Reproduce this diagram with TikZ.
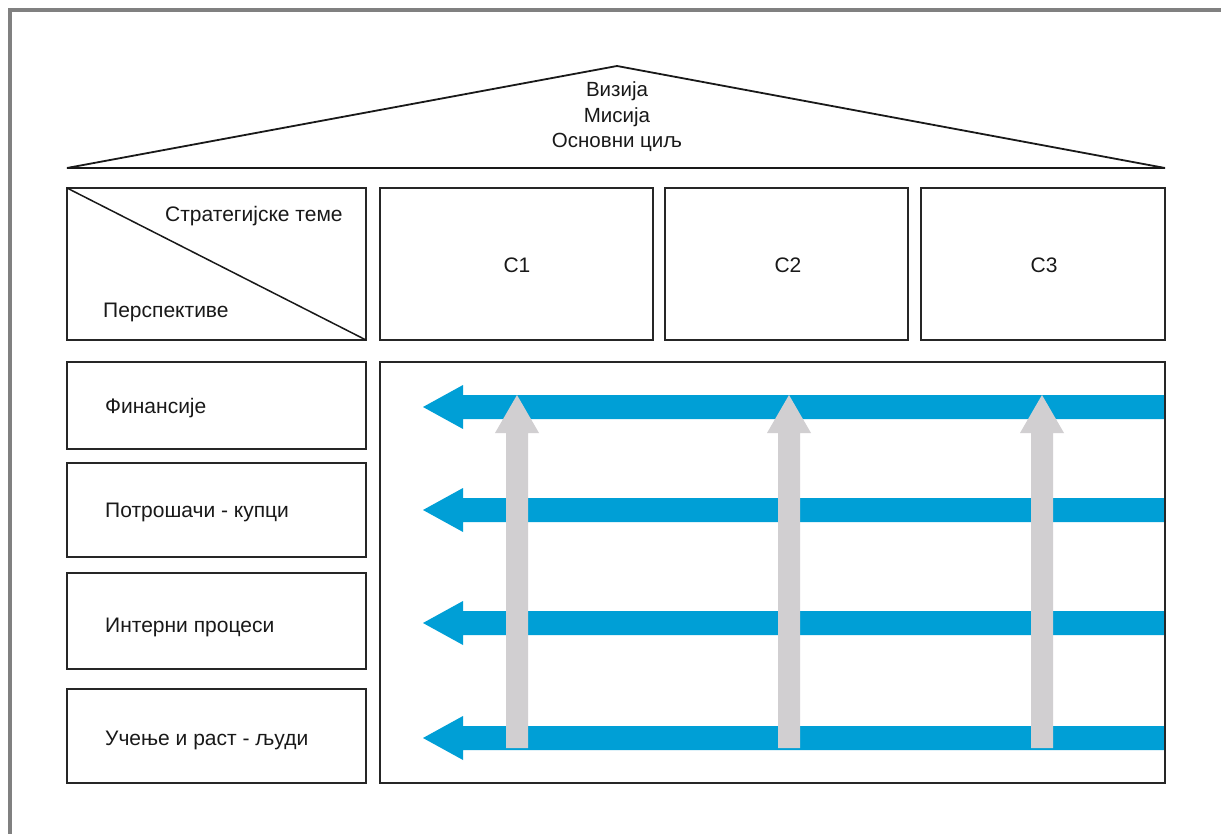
\documentclass[tikz,border=0pt]{standalone}
\usepackage{fontspec}
\setmainfont{Liberation Sans}
\definecolor{framegray}{HTML}{808080}
\definecolor{flowblue}{HTML}{009FD6}
\definecolor{themegray}{HTML}{D1CFD1}
\begin{document}
\begin{tikzpicture}[x=1pt,y=-1pt,
  box/.style={draw=black!85,line width=1.8pt},
  lbl/.style={inner sep=0pt,font=\fontsize{21}{24}\selectfont,text=black!90},
  blue arrow/.style={fill=flowblue,draw=none},
  gray arrow/.style={fill=themegray,draw=none}]
\useasboundingbox (0,0) rectangle (1221,834);
\clip (0,0) rectangle (1221,834);
\fill[white] (0,0) rectangle (1221,834);
% outer frame (only its left and top sides fall inside the page)
\draw[framegray,line width=4pt] (10,10.5) rectangle (1260,880);

% roof
\draw[black!90,line width=1.8pt,line join=miter] (67,168) -- (617,66) -- (1165,168) -- cycle;
\node[lbl,align=center,font=\fontsize{20.5}{25.5}\selectfont] (roof) at (617,117)
  {Визија\\Мисија\\Основни циљ};

% header row
\draw[box] (67,188) rectangle (366,340);
\coordinate (hdrTL) at (67,188);
\coordinate (hdrBR) at (366,340);
\draw[black!90,line width=1.5pt] (hdrTL) -- (hdrBR);
\node[lbl,anchor=base west] (themes) at (165,222) {Стратегијске теме};
\node[lbl,anchor=base west] (persp) at (103,318) {Перспективе};

\draw[box] (380,188) rectangle (653,340);
\draw[box] (665,188) rectangle (908,340);
\draw[box] (921,188) rectangle (1165,340);
\node[lbl,anchor=base] (c1) at (517,273) {С1};
\node[lbl,anchor=base] (c2) at (788,273) {С2};
\node[lbl,anchor=base] (c3) at (1044,273) {С3};

% perspective boxes
\draw[box] (67,362) rectangle (366,449);
\draw[box] (67,463) rectangle (366,557);
\draw[box] (67,573) rectangle (366,669);
\draw[box] (67,689) rectangle (366,783);
\node[lbl,anchor=base west] (p1) at (105,413) {Финансије};
\node[lbl,anchor=base west] (p2) at (105,517) {Потрошачи - купци};
\node[lbl,anchor=base west] (p3) at (105,632) {Интерни процеси};
\node[lbl,anchor=base west] (p4) at (105,745) {Учење и раст - људи};

% horizontal flows, one per perspective
\foreach \y in {407,510,623,738}{
  \fill[blue arrow] (1165,\y-12) -- (463,\y-12) -- (463,\y-22) -- (423,\y)
    -- (463,\y+22) -- (463,\y+12) -- (1165,\y+12) -- cycle;
}
% vertical flows, one per strategic theme
\foreach \x in {517,789,1042}{
  \fill[gray arrow] (\x-11,748) -- (\x-11,433) -- (\x-22,433) -- (\x,395)
    -- (\x+22,433) -- (\x+11,433) -- (\x+11,748) -- cycle;
}
% map area frame
\draw[box] (380,362) rectangle (1165,783);
\end{tikzpicture}
\end{document}
